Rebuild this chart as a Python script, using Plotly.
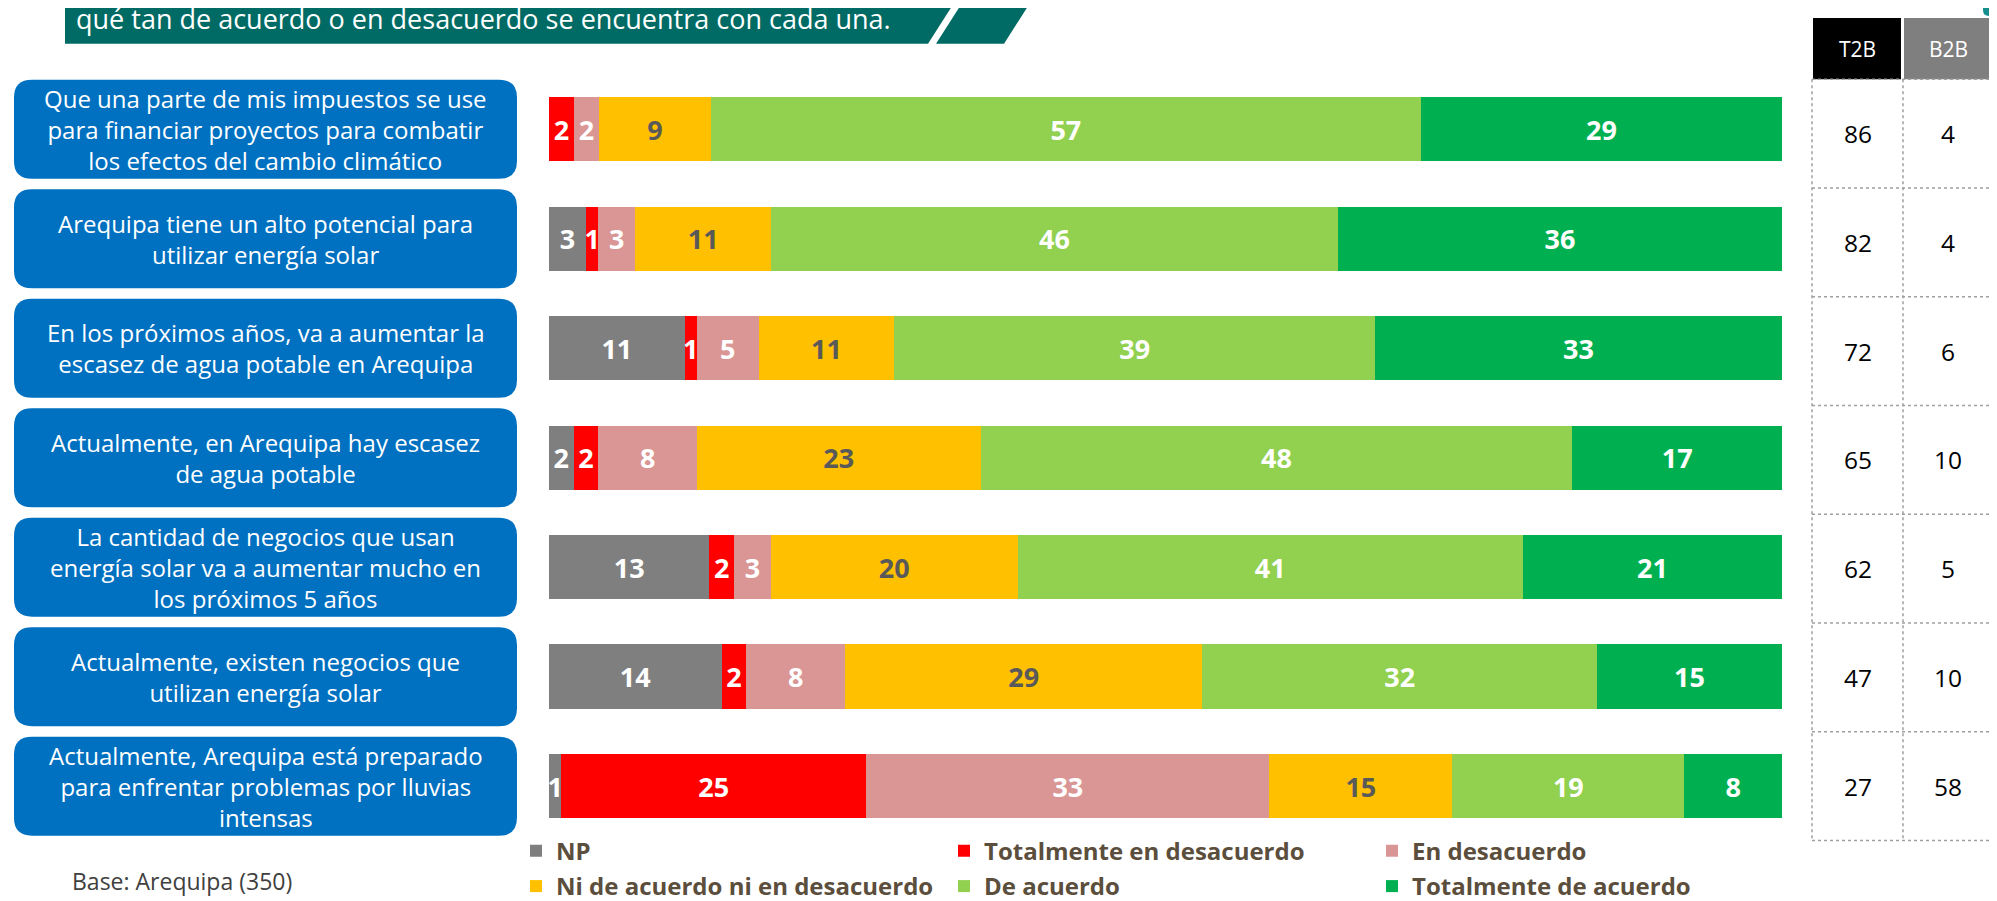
import plotly.graph_objects as go

W, H = 1997, 901
FONT = "Open Sans"

# ---------------- data ----------------
statements = [
    "Que una parte de mis impuestos se use<br>para financiar proyectos para combatir<br>los efectos del cambio climático",
    "Arequipa tiene un alto potencial para<br>utilizar energía solar",
    "En los próximos años, va a aumentar la<br>escasez de agua potable en Arequipa",
    "Actualmente, en Arequipa hay escasez<br>de agua potable",
    "La cantidad de negocios que usan<br>energía solar va a aumentar mucho en<br>los próximos 5 años",
    "Actualmente, existen negocios que<br>utilizan energía solar",
    "Actualmente, Arequipa está preparado<br>para enfrentar problemas por lluvias<br>intensas",
]
series_names = ["NP", "Totalmente en desacuerdo", "En desacuerdo",
                "Ni de acuerdo ni en desacuerdo", "De acuerdo", "Totalmente de acuerdo"]
np_vals = [0, 3, 11, 2, 13, 14, 1]
td_vals = [2, 1, 1, 2, 2, 2, 25]
ed_vals = [2, 3, 5, 8, 3, 8, 33]
ni_vals = [9, 11, 11, 23, 20, 29, 15]
da_vals = [57, 46, 39, 48, 41, 32, 19]
ta_vals = [29, 36, 33, 17, 21, 15, 8]
t2b_vals = [86, 82, 72, 65, 62, 47, 27]
b2b_vals = [4, 4, 6, 10, 5, 10, 58]
table_headers = ["T2B", "B2B"]
base_note = "Base: Arequipa (350)"
banner_text = "qué tan de acuerdo o en desacuerdo se encuentra con cada una."

# ---------------- styles ----------------
colors = ["#7F7F7F", "#FF0000", "#DA9694", "#FFC000", "#92D050", "#00B050"]
label_colors = ["white", "white", "white", "#595959", "white", "white"]
legend_ids = ["legend", "legend", "legend", "legend2", "legend2", "legend2"]


def px(x):
    return x / W


def py(y):
    return 1 - y / H


# bar area geometry (pixels)
BAR_X0, BAR_X1 = 541, 1774
AX_TOP, AX_BOT = 67.2, 841.3
ROW_H = (AX_BOT - AX_TOP) / len(statements)

fig = go.Figure()
all_vals = [np_vals, td_vals, ed_vals, ni_vals, da_vals, ta_vals]
for name, vals, col, lcol, lg in zip(series_names, all_vals, colors, label_colors, legend_ids):
    fig.add_trace(go.Bar(
        y=statements, x=vals, orientation="h", name=name,
        marker=dict(color=col, line=dict(width=0)),
        text=[str(v) if v else "" for v in vals],
        texttemplate="%{text}",
        textposition="inside", insidetextanchor="middle",
        textangle=0, constraintext="none",
        insidetextfont=dict(family=FONT, size=27, color=lcol, weight="bold"),
        legend=lg, hoverinfo="name+x",
    ))

shapes = []
annotations = []


def rrect(x0, y0, x1, y1, r):
    pts = [
        ("M", [(x0 + r, y0)]), ("L", [(x1 - r, y0)]), ("Q", [(x1, y0), (x1, y0 + r)]),
        ("L", [(x1, y1 - r)]), ("Q", [(x1, y1), (x1 - r, y1)]),
        ("L", [(x0 + r, y1)]), ("Q", [(x0, y1), (x0, y1 - r)]),
        ("L", [(x0, y0 + r)]), ("Q", [(x0, y0), (x0 + r, y0)]),
    ]
    s = ""
    for cmd, ps in pts:
        s += cmd + " ".join(f"{px(a):.5f},{py(b):.5f}" for a, b in ps) + " "
    return s + "Z"


def poly(points):
    return "M" + " L".join(f"{px(a):.5f},{py(b):.5f}" for a, b in points) + " Z"


# banner (top)
shapes.append(dict(type="path", xref="paper", yref="paper",
                   path=poly([(57, -5), (946, -5), (920, 36), (57, 36)]),
                   fillcolor="#006B64", line=dict(width=0), layer="below"))
shapes.append(dict(type="path", xref="paper", yref="paper",
                   path=poly([(954, -5), (1022, -5), (996, 36), (928, 36)]),
                   fillcolor="#006B64", line=dict(width=0), layer="below"))
shapes.append(dict(type="path", xref="paper", yref="paper",
                   path=rrect(1975, -10, 2010, 8, 6),
                   fillcolor="#178E8E", line=dict(width=0), layer="below"))
annotations.append(dict(text=banner_text, xref="paper", yref="paper",
                        x=px(66), y=py(31), xanchor="left", yanchor="bottom",
                        showarrow=False, font=dict(family=FONT, size=27, color="white")))

# statement boxes
for i, s in enumerate(statements):
    cy = AX_TOP + (i + 0.5) * ROW_H
    shapes.append(dict(type="path", xref="paper", yref="paper",
                       path=rrect(6, cy - 50, 509, cy + 50, 18),
                       fillcolor="#0070C0", line=dict(width=0), layer="below"))
    annotations.append(dict(text=s, xref="paper", yref="y", x=px(257.5), y=s,
                            xanchor="center", yanchor="middle", showarrow=False,
                            align="center",
                            font=dict(family=FONT, size=24, color="white")))

# table
TX = [1804, 1895, 1985]
TY0, TY1 = 72, 841
T_ROW = (TY1 - TY0) / len(t2b_vals)
shapes.append(dict(type="rect", xref="paper", yref="paper",
                   x0=px(1805), x1=px(1893), y0=py(72), y1=py(10),
                   fillcolor="black", line=dict(width=0)))
shapes.append(dict(type="rect", xref="paper", yref="paper",
                   x0=px(1896), x1=px(1984), y0=py(72), y1=py(10),
                   fillcolor="#7F7F7F", line=dict(width=0)))
for j, h in enumerate(table_headers):
    annotations.append(dict(text=h, xref="paper", yref="paper",
                            x=px((TX[j] + TX[j + 1]) / 2), y=py(41),
                            xanchor="center", yanchor="middle", showarrow=False,
                            font=dict(family=FONT, size=21, color="white")))
dot = dict(color="#A0A0A0", width=1.5, dash="dot")
for x in TX:
    shapes.append(dict(type="line", xref="paper", yref="paper",
                       x0=px(x), x1=px(x), y0=py(TY0), y1=py(TY1), line=dot))
for k in range(len(t2b_vals) + 1):
    yy = TY0 + k * T_ROW
    shapes.append(dict(type="line", xref="paper", yref="paper",
                       x0=px(TX[0]), x1=px(TX[2]), y0=py(yy), y1=py(yy), line=dot))
for k, (a, b) in enumerate(zip(t2b_vals, b2b_vals)):
    cy = TY0 + (k + 0.5) * T_ROW
    for j, v in enumerate((a, b)):
        annotations.append(dict(text=str(v), xref="paper", yref="paper",
                                x=px((TX[j] + TX[j + 1]) / 2), y=py(cy),
                                xanchor="center", yanchor="middle", showarrow=False,
                                font=dict(family=FONT, size=24.5, color="black")))

# base note
annotations.append(dict(text=base_note, xref="paper", yref="paper",
                        x=px(62), y=py(882), xanchor="left", yanchor="middle",
                        showarrow=False, font=dict(family=FONT, size=23, color="#404040")))

legend_common = dict(orientation="h", xanchor="left", yanchor="top",
                     entrywidth=383, entrywidthmode="pixels",
                     font=dict(family=FONT, size=24, color="#5B4E3C", weight="bold"),
                     bgcolor="rgba(0,0,0,0)", borderwidth=0, traceorder="normal",
                     itemclick=False, itemdoubleclick=False)

fig.update_layout(
    width=W, height=H,
    margin=dict(l=0, r=0, t=0, b=0),
    paper_bgcolor="white", plot_bgcolor="white",
    barmode="stack", barnorm="percent", bargap=1 - 65 / ROW_H,
    xaxis=dict(domain=[px(BAR_X0), px(BAR_X1)], range=[0, 100], visible=False, fixedrange=True),
    yaxis=dict(domain=[py(AX_BOT), py(AX_TOP)], categoryorder="array", categoryarray=statements,
               autorange="reversed", visible=False, fixedrange=True),
    showlegend=True,
    legend=dict(x=px(508), y=py(829), **legend_common),
    legend2=dict(x=px(508), y=py(865), **legend_common),
    shapes=shapes,
    annotations=annotations,
    font=dict(family=FONT),
)

fig.write_html("out.html")
